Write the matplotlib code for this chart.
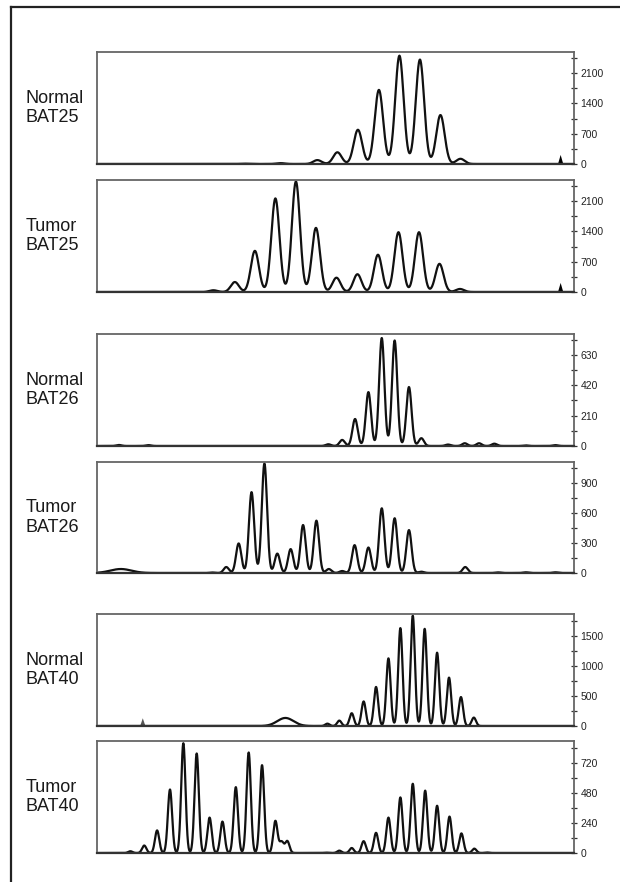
import numpy as np
import matplotlib
matplotlib.use('agg')
import matplotlib.pyplot as plt
from matplotlib.lines import Line2D

plt.rcParams['font.family'] = ['Liberation Sans', 'DejaVu Sans']

# row labels
labels = ["Normal\nBAT25", "Tumor\nBAT25", "Normal\nBAT26",
          "Tumor\nBAT26", "Normal\nBAT40", "Tumor\nBAT40"]

# peak positions (relative size scale, 0-100) and heights (RFU)
nbat25_pos = [30.8, 38.5, 46.2, 50.4, 54.7, 59.1, 63.4, 67.7, 72.0, 76.2]
nbat25_h   = [8, 20, 90, 270, 790, 1710, 2500, 2410, 1130, 120]

tbat25_pos = [24.4, 28.9, 33.1, 37.4, 41.7, 45.9, 50.2, 54.6, 58.9, 63.2, 67.5, 71.8, 76.1]
tbat25_h   = [40, 230, 950, 2160, 2550, 1480, 330, 410, 860, 1380, 1380, 650, 70]

nbat26_pos = [4.6, 10.8, 48.5, 51.4, 54.1, 56.9, 59.7, 62.4, 65.4, 68.0,
              73.6, 77.1, 80.1, 83.3, 89.9, 96.1]
nbat26_h   = [7, 6, 12, 42, 187, 373, 747, 730, 408, 54,
              10, 19, 19, 16, 4, 6]

tbat26_pos = [24.2, 27.1, 29.7, 32.4, 35.1, 37.8, 40.6, 43.2, 46.0, 48.6, 51.4,
              54.0, 56.9, 59.7, 62.4, 65.4, 68.0, 77.2, 84.1, 89.9, 96.1]
tbat26_h   = [5, 60, 297, 812, 1100, 195, 240, 482, 526, 40, 20,
              280, 256, 650, 550, 431, 13, 60, 6, 7, 7]
tbat26_hump_pos = [5.0]
tbat26_hump_h   = [40]

nbat40_pos = [48.3, 50.8, 53.4, 55.9, 58.5, 61.1, 63.6, 66.2, 68.7, 71.3, 73.8, 76.3, 79.0]
nbat40_h   = [39, 90, 213, 409, 650, 1126, 1630, 1837, 1618, 1221, 806, 482, 140]
nbat40_hump_pos = [39.5]
nbat40_hump_h   = [134]

tbat40_pos = [7.0, 9.9, 12.6, 15.3, 18.1, 20.9, 23.6, 26.3, 29.1, 31.8, 34.6,
              37.4, 38.7, 39.9, 48.0, 50.8, 53.4, 55.9, 58.5, 61.1, 63.6, 66.2,
              68.8, 71.3, 73.9, 76.4, 79.1, 81.8]
tbat40_h   = [14, 60, 181, 509, 880, 798, 284, 252, 528, 806, 704,
              257, 89, 95, 3, 19, 40, 95, 162, 284, 446, 555,
              500, 379, 292, 157, 35, 4]

# size-standard triangles
bat25_marker_pos = [97.2]
bat25_marker_h   = [210]
nbat40_marker_pos = [9.6]
nbat40_marker_h   = [129]

# right axis ticks
ticks_bat25  = [0, 700, 1400, 2100]
minor_bat25  = [350, 1050, 1750, 2450]
ticks_nbat26 = [0, 210, 420, 630]
minor_nbat26 = [105, 315, 525, 735]
ticks_tbat26 = [0, 300, 600, 900]
minor_tbat26 = [150, 450, 750, 1050]
ticks_nbat40 = [0, 500, 1000, 1500]
minor_nbat40 = [250, 750, 1250, 1750]
ticks_tbat40 = [0, 240, 480, 720]
minor_tbat40 = [120, 360, 600, 840]

W, H = 620, 882
fig = plt.figure(figsize=(W / 100, H / 100), dpi=100)

# panel boxes in pixels (top, bottom)
boxes = [(52, 164), (180, 292), (334, 446), (462, 573), (614, 726), (741, 853)]
left_px, right_px = 97, 574

xs = np.linspace(0, 100, 4000)


def trace(pos, h, sigma):
    y = np.zeros_like(xs)
    for p, a in zip(pos, h):
        y += a * np.exp(-(xs - p) ** 2 / (2 * sigma ** 2))
    return y


def draw_panel(ax, y, ytop, major, minor, label, markers=None, mcolor='k'):
    ax.plot(xs, y, color='#111111', lw=1.6, solid_joinstyle='round')
    if markers is not None:
        for p, a in zip(*markers):
            ax.fill([p - 0.55, p, p + 0.55], [0, a, 0], color=mcolor, lw=0)
    ax.set_xlim(0, 100)
    ax.set_ylim(0, ytop)
    ax.set_xticks([])
    ax.yaxis.tick_right()
    ax.set_yticks(major)
    ax.set_yticks(minor, minor=True)
    ax.set_yticklabels([str(t) for t in major])
    ax.tick_params(axis='y', which='both', direction='inout', length=4.5,
                   width=0.9, color='#333333', labelsize=7.5, pad=2.5,
                   labelcolor='#222222')
    for s in ax.spines.values():
        s.set_color('#666666')
        s.set_linewidth(1.3)
    ax.spines['bottom'].set_color('#333333')
    ax.spines['bottom'].set_linewidth(1.6)
    ax.text(-0.149, 0.5, label, transform=ax.transAxes, fontsize=13,
            ha='left', va='center', linespacing=1.2, color='#1a1a1a')


axes = []
for top, bot in boxes:
    ax = fig.add_axes([left_px / W, 1 - bot / H, (right_px - left_px) / W, (bot - top) / H])
    axes.append(ax)

draw_panel(axes[0], trace(nbat25_pos, nbat25_h, 0.88), 2585, ticks_bat25, minor_bat25,
           labels[0], (bat25_marker_pos, bat25_marker_h))
draw_panel(axes[1], trace(tbat25_pos, tbat25_h, 0.85), 2585, ticks_bat25, minor_bat25,
           labels[1], (bat25_marker_pos, bat25_marker_h))
draw_panel(axes[2], trace(nbat26_pos, nbat26_h, 0.55), 775, ticks_nbat26, minor_nbat26,
           labels[2])
draw_panel(axes[3], trace(tbat26_pos, tbat26_h, 0.55) + trace(tbat26_hump_pos, tbat26_hump_h, 2.2),
           1115, ticks_tbat26, minor_tbat26, labels[3])
draw_panel(axes[4], trace(nbat40_pos, nbat40_h, 0.45) + trace(nbat40_hump_pos, nbat40_hump_h, 1.7),
           1865, ticks_nbat40, minor_nbat40, labels[4],
           (nbat40_marker_pos, nbat40_marker_h), mcolor='#555555')
draw_panel(axes[5], trace(tbat40_pos, tbat40_h, 0.45), 898, ticks_tbat40, minor_tbat40,
           labels[5])

# outer frame (top and left edges)
fig.add_artist(Line2D([11 / W, 1.0], [1 - 7 / H, 1 - 7 / H], transform=fig.transFigure,
                      color='#222222', lw=1.6))
fig.add_artist(Line2D([11 / W, 11 / W], [0.0, 1 - 7 / H], transform=fig.transFigure,
                      color='#222222', lw=1.6))

fig.savefig("out.png", dpi=100)
